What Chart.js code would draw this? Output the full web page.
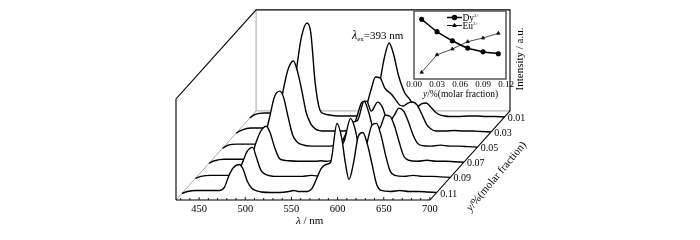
<!DOCTYPE html>
<html>
<head>
<meta charset="utf-8">
<style>
  html, body { margin: 0; padding: 0; background: #fff; }
  #wrap { position: relative; width: 700px; height: 240px; overflow: hidden; }
  canvas { position: absolute; }
</style>
<script src="https://cdn.jsdelivr.net/npm/chart.js@4/dist/chart.umd.js"></script>
</head>
<body>
<div id="wrap">
  <canvas id="main" width="700" height="240" style="left:0;top:0"></canvas>
  <canvas id="inset" width="125" height="100" style="left:400px;top:0"></canvas>
</div>
<script>
const wavelengths = [424,430,440,450,460,465,470,475,480,486,490,495,500,505,510,520,530,540,545,550,560,565,570,575,580,585,592,597,601,605,610,615,620,625,630,635,640,650,660,670,680,690,700];

const s011 = [-1,1,2,2,2,2,5,17,25,28,24,11,4,1.5,0.5,0,0,1,2,1,1,4,14,24,28,30,69,55,30,13,30,56,60,48,28,8,2,1,2,1,1,0.5,0];
const s009 = [-1,1,2,2,2,2,5,15,26,30,20,7,3,1.5,1,1,1,1,1.5,2,1,4,14,26,30,36,59,48,30,20,35,52,54,42,22,6,2,1,2,1,1,0.5,0];
const s007 = [-1,1.5,3,3,3,3,6,20,31,36,30,15,4,2,1.5,1,1,1,1.5,1,3,12,24,34,40,42,61,50,36,30,36,47,46,36,20,6,2,1,2,1,1,0.5,0];
const s005 = [-1,2,3,3,3,4,12,30,50,56,50,30,12,5,2.5,1,1,1,1.5,1,6,18,32,45,46,36,45,40,30,26,32,39,36,26,13,4,1.5,1,2,1,1,0.5,0];
const s003 = [-1,2,4,4,4,6,18,42,62,71,62,42,19,8,3,1,1,1,1.5,1,8,25,42,55,54,44,38,32,27,26,29,30,27,18,8,3,1,1,1.5,1,1,0.5,0];
const s001 = [-1,2.5,4,4,4,5,15,50,80,94,85,33,7,3,2,1,1,1,1.5,2,12,35,60,74,62,42,24,18,12,10,13,14,10,5,2,1,0.5,0.5,1,1,0.5,0.5,0];

const frontToBack = [s011, s009, s007, s005, s003, s001];
const depthLabels = ["0.11", "0.09", "0.07", "0.05", "0.03", "0.01"];
const xTicks = [430,440,450,460,470,480,490,500,510,520,530,540,550,560,570,580,590,600,610,620,630,640,650,660,670,680,690,700];

const insetX = [0.01, 0.03, 0.05, 0.07, 0.09, 0.11];
const insetDy = [0.878, 0.696, 0.563, 0.456, 0.401, 0.372];
const insetEu = [0.099, 0.357, 0.441, 0.549, 0.603, 0.672];
const insetTicks = [0, 0.03, 0.06, 0.09, 0.12];

const serif = '"Liberation Serif", "Times New Roman", serif';

// one depth step in data units, the waterfall is just a sheared axis
const stepX = 14.7;
const stepY = 15.1;
const backDepth = 5.9;
const wallHeight = 101;

const datasets = frontToBack.map((values, i) => {
    const depth = i + 0.5;
    const floor = depth * stepY;
    return {
        data: wavelengths.map((w, k) => ({ x: w + depth * stepX, y: values[k] + floor })),
        borderColor: "#000",
        borderWidth: 1.4,
        pointRadius: 0,
        cubicInterpolationMode: "monotone",
        backgroundColor: "#fff",
        fill: { target: { value: floor }, above: "#fff", below: "#fff" },
    };
});

function writeRuns(ctx, x, y, runs) {
    // mixed italic / sub / superscript text
    ctx.textAlign = "left";
    ctx.textBaseline = "alphabetic";
    runs.forEach((r) => {
        ctx.font = r.font;
        ctx.fillText(r.text, x, y + (r.dy || 0));
        x += ctx.measureText(r.text).width;
    });
}

const framePlugin = {
    id: "frame",
    beforeDatasetsDraw(chart) {
        const ctx = chart.ctx;
        const sx = chart.scales.x;
        const sy = chart.scales.y;
        const pt = (w, depth, h) => [sx.getPixelForValue(w + depth * stepX), sy.getPixelForValue(h + depth * stepY)];
        const path = (color, width, points) => {
            ctx.beginPath();
            points.forEach((p, i) => (i ? ctx.lineTo(p[0], p[1]) : ctx.moveTo(p[0], p[1])));
            ctx.strokeStyle = color;
            ctx.lineWidth = width;
            ctx.stroke();
        };
        ctx.save();
        path("#a8a8a8", 1, [pt(425, 0, 0), pt(425, backDepth, 0), pt(700, backDepth, 0)]);
        path("#a8a8a8", 1, [pt(425, backDepth, 0), pt(425, backDepth, wallHeight)]);
        path("#000", 1.1, [pt(425, 0, 0), pt(425, 0, wallHeight), pt(425, backDepth, wallHeight), pt(700, backDepth, wallHeight), pt(700, backDepth, 0)]);
        path("#000", 1.1, [pt(425, 0, 0), pt(700, 0, 0), pt(700, backDepth, 0)]);
        xTicks.forEach((t) => {
            const len = t % 50 === 0 ? 3 : 2;
            const p = pt(t, 0, 0);
            path("#000", 0.9, [p, [p[0], p[1] - len]]);
        });
        ctx.restore();
    },
    afterDatasetsDraw(chart) {
        const ctx = chart.ctx;
        const sx = chart.scales.x;
        const sy = chart.scales.y;
        ctx.save();
        ctx.fillStyle = "#000";
        depthLabels.forEach((label, i) => {
            const depth = i + 0.5;
            ctx.font = "10px " + serif;
            ctx.textAlign = "center";
            ctx.textBaseline = "middle";
            ctx.fillText(label, sx.getPixelForValue(700 + depth * stepX) + 12, sy.getPixelForValue(depth * stepY) + 1.5);
        });
        writeRuns(ctx, 296, 224, [
            { text: "λ", font: "italic 11px " + serif },
            { text: " / nm", font: "11px " + serif },
        ]);
        writeRuns(ctx, 352, 39, [
            { text: "λ", font: "italic 12px " + serif },
            { text: "ex", font: "7px " + serif, dy: 2 },
            { text: "=393 nm", font: "11px " + serif },
        ]);
        ctx.save();
        ctx.translate(520, 59);
        ctx.rotate(-Math.PI / 2);
        ctx.font = "11px " + serif;
        ctx.textAlign = "center";
        ctx.textBaseline = "middle";
        ctx.fillText("Intensity / a.u.", 0, 0);
        ctx.restore();
        ctx.save();
        ctx.translate(497, 175);
        ctx.rotate(-50 * Math.PI / 180);
        writeRuns(ctx, -45, 3.5, [
            { text: "y", font: "italic 11px " + serif },
            { text: "/%(molar fraction)", font: "11px " + serif },
        ]);
        ctx.restore();
        ctx.restore();
    },
};

new Chart(document.getElementById("main"), {
    type: "line",
    data: { datasets: datasets },
    plugins: [framePlugin],
    options: {
        responsive: false,
        animation: false,
        layout: { padding: { left: 176, right: 190, top: 9, bottom: 0 } },
        plugins: { legend: { display: false }, tooltip: { enabled: false } },
        scales: {
            x: {
                type: "linear",
                min: 425,
                max: 425 + 275 + backDepth * stepX,
                afterBuildTicks: (s) => { s.ticks = xTicks.map((v) => ({ value: v })); },
                afterFit: (s) => { s.height = 40; },
                grid: { display: false, drawTicks: false },
                border: { display: false },
                ticks: {
                    autoSkip: false,
                    maxRotation: 0,
                    padding: 3,
                    color: "#000",
                    font: { family: serif, size: 10.5 },
                    callback: (v) => (v % 50 === 0 ? String(v) : ""),
                },
            },
            y: { display: false, min: 0, max: 191 },
        },
    },
});

const insetLegend = {
    id: "insetLegend",
    afterDatasetsDraw(chart) {
        const ctx = chart.ctx;
        const rows = [
            { name: "Dy", y: 17.5, style: "circle", width: 1.5 },
            { name: "Eu", y: 25.5, style: "triangle", width: 0.9 },
        ];
        ctx.save();
        ctx.fillStyle = "#000";
        rows.forEach((r) => {
            ctx.beginPath();
            ctx.moveTo(7 + 40, r.y);
            ctx.lineTo(22 + 40, r.y);
            ctx.strokeStyle = "#000";
            ctx.lineWidth = r.width;
            ctx.stroke();
            Chart.helpers.drawPoint(ctx, { pointStyle: r.style, radius: 2, borderWidth: 1 }, 14.5 + 40, r.y);
            ctx.fill();
            writeRuns(ctx, 62.5, r.y + 3, [
                { text: r.name, font: "9.5px " + serif },
                { text: "3+", font: "5px " + serif, dy: -4 },
            ]);
        });
        ctx.restore();
    },
};

const insetFrame = {
    id: "insetFrame",
    afterDatasetsDraw(chart) {
        const a = chart.chartArea;
        const ctx = chart.ctx;
        ctx.save();
        ctx.strokeStyle = "#555";
        ctx.lineWidth = 1.5;
        ctx.strokeRect(a.left, a.top, a.right - a.left, a.bottom - a.top);
        ctx.fillStyle = "#000";
        writeRuns(ctx, 23, 96.5, [
            { text: "y", font: "italic 9.5px " + serif },
            { text: "/%(molar fraction)", font: "9.5px " + serif },
        ]);
        ctx.restore();
    },
};

new Chart(document.getElementById("inset"), {
    type: "line",
    data: {
        datasets: [
            {
                data: insetX.map((x, k) => ({ x: x, y: insetDy[k] })),
                borderColor: "#000",
                backgroundColor: "#000",
                borderWidth: 1.5,
                cubicInterpolationMode: "monotone",
                pointStyle: "circle",
                pointRadius: 1.8,
            },
            {
                data: insetX.map((x, k) => ({ x: x, y: insetEu[k] })),
                borderColor: "#222",
                backgroundColor: "#000",
                borderWidth: 0.8,
                pointStyle: "triangle",
                pointRadius: 2,
            },
        ],
    },
    plugins: [insetFrame, insetLegend],
    options: {
        responsive: false,
        animation: false,
        layout: { padding: { left: 14, right: 19, top: 11, bottom: 0 } },
        plugins: { legend: { display: false }, tooltip: { enabled: false } },
        scales: {
            x: {
                type: "linear",
                min: 0,
                max: 0.12,
                afterBuildTicks: (s) => { s.ticks = insetTicks.map((v) => ({ value: v })); },
                afterFit: (s) => { s.height = 21; },
                grid: { display: false, drawTicks: false },
                border: { display: false },
                ticks: {
                    autoSkip: false,
                    maxRotation: 0,
                    padding: 0,
                    color: "#000",
                    font: { family: serif, size: 9 },
                    callback: (v) => v.toFixed(2),
                },
            },
            y: { display: false, min: 0, max: 1 },
        },
    },
});
</script>
</body>
</html>
